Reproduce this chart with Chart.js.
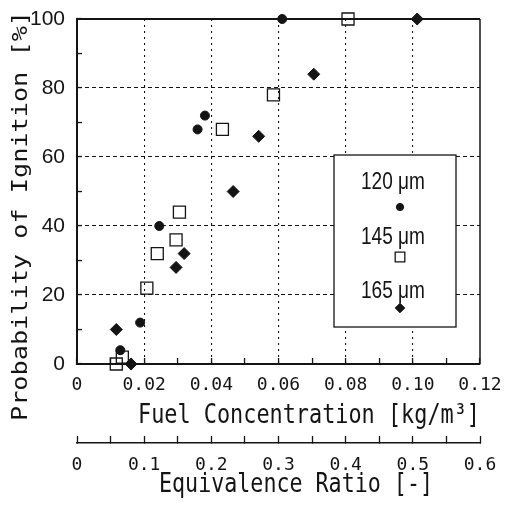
<!DOCTYPE html>
<html lang="en">
<head>
<meta charset="UTF-8">
<title>Probability of Ignition</title>
<style>
  html, body { margin:0; padding:0; background:#fff; }
  #wrap { width:520px; height:505px; }
</style>
</head>
<body>
<div id="wrap"><canvas id="chart" width="520" height="505"></canvas></div>
<script src="https://cdn.jsdelivr.net/npm/chart.js"></script>
<script>
// fuel concentration [kg/m3] -> probability of ignition [%], per droplet size
const seriesLabels = ["120 \u03bcm", "145 \u03bcm", "165 \u03bcm"];

const fuel120 = [0.0129, 0.0188, 0.0245, 0.0359, 0.0381, 0.0611];
const prob120 = [4, 12, 40, 68, 72, 100];

const fuel145 = [0.0117, 0.0135, 0.0208, 0.0239, 0.0295, 0.0305, 0.0433, 0.0585, 0.0807];
const prob145 = [0, 2, 22, 32, 36, 44, 68, 78, 100];

const fuel165 = [0.0117, 0.0161, 0.0295, 0.0319, 0.0465, 0.0541, 0.0705, 0.1013];
const prob165 = [10, 0, 28, 32, 50, 66, 84, 100];

const xTicks = [0, 0.02, 0.04, 0.06, 0.08, 0.10, 0.12];
const yTicks = [0, 20, 40, 60, 80, 100];
const eqTicks = [0, 0.1, 0.2, 0.3, 0.4, 0.5, 0.6];

const ink = '#141414';
const none = 'rgba(0,0,0,0)';
const pts = (xs, ys) => xs.map((x, i) => ({ x: x, y: ys[i] }));

// frame: top and right edges of the plot box
const framePlugin = {
  id: 'frame',
  beforeDatasetsDraw(chart) {
    const { ctx, chartArea: a } = chart;
    ctx.save();
    ctx.strokeStyle = ink;
    ctx.lineWidth = 2;
    ctx.beginPath();
    ctx.moveTo(a.left, a.top);
    ctx.lineTo(a.right, a.top);
    ctx.stroke();
    ctx.lineWidth = 1.5;
    ctx.beginPath();
    ctx.moveTo(a.right, a.top);
    ctx.lineTo(a.right, a.bottom);
    ctx.stroke();
    ctx.restore();
  }
};

// squeeze a title to a given width
function squeezed(ctx, text, cx, cy, width, font, rot) {
  ctx.save();
  ctx.font = font;
  ctx.fillStyle = ink;
  ctx.textAlign = 'center';
  ctx.textBaseline = 'alphabetic';
  ctx.translate(cx, cy);
  if (rot) ctx.rotate(rot);
  const w = ctx.measureText(text).width;
  ctx.scale(width / w, 1);
  ctx.fillText(text, 0, 0);
  ctx.restore();
}

const titlePlugin = {
  id: 'titles',
  afterDraw(chart) {
    const ctx = chart.ctx;
    squeezed(ctx, 'Probability of Ignition [%]', 27, 216, 410, '21px "DejaVu Sans Mono"', -Math.PI / 2);
    squeezed(ctx, 'Fuel Concentration [kg/m\u00b3]', 309, 423, 342, '27px "DejaVu Sans Mono"');
    squeezed(ctx, 'Equivalence Ratio [-]', 296, 492, 274, '27px "DejaVu Sans Mono"');
  }
};

// legend box: label above its marker
const legendPlugin = {
  id: 'boxLegend',
  afterDraw(chart) {
    const ctx = chart.ctx;
    const bx = 334, by = 155, bw = 122, bh = 172;
    ctx.save();
    ctx.fillStyle = '#fff';
    ctx.fillRect(bx, by, bw, bh);
    ctx.strokeStyle = ink;
    ctx.lineWidth = 1.3;
    ctx.strokeRect(bx, by, bw, bh);
    const rows = [189, 244, 298];
    const marks = [207, 257, 308];
    chart.data.datasets.forEach((ds, i) => {
      squeezed(ctx, ds.label, 393, rows[i], 64, '24px "Liberation Sans"');
      ctx.fillStyle = ds.backgroundColor;
      ctx.strokeStyle = ds.borderColor;
      ctx.lineWidth = ds.borderWidth;
      Chart.helpers.drawPoint(ctx, {
        pointStyle: ds.pointStyle,
        radius: ds.pointRadius * 0.8,
        rotation: 0,
        borderWidth: ds.borderWidth
      }, 400, marks[i]);
    });
    ctx.restore();
  }
};

const noPad = s => { s.paddingTop = 0; s.paddingBottom = 0; s.paddingLeft = 0; s.paddingRight = 0; };

new Chart(document.getElementById('chart'), {
  type: 'scatter',
  data: {
    datasets: [
      { label: seriesLabels[0], data: pts(fuel120, prob120), pointStyle: 'circle', pointRadius: 4.5,
        backgroundColor: ink, borderColor: ink, borderWidth: 1, clip: false },
      { label: seriesLabels[1], data: pts(fuel145, prob145), pointStyle: 'rect', pointRadius: 8.5,
        backgroundColor: none, borderColor: ink, borderWidth: 1.3, clip: false },
      { label: seriesLabels[2], data: pts(fuel165, prob165), pointStyle: 'rectRot', pointRadius: 6,
        backgroundColor: ink, borderColor: ink, borderWidth: 1, clip: false }
    ]
  },
  options: {
    responsive: false,
    animation: false,
    layout: { padding: { top: 19, right: 40, left: 0, bottom: 0 } },
    plugins: { legend: { display: false }, tooltip: { enabled: false } },
    scales: {
      x: {
        type: 'linear', position: 'bottom', weight: 0,
        min: xTicks[0], max: xTicks[xTicks.length - 1],
        afterFit: s => { s.height = 79; noPad(s); },
        ticks: {
          stepSize: 0.01, autoSkip: false, maxRotation: 0, padding: 17, color: ink,
          font: { family: 'DejaVu Sans Mono', size: 18 },
          callback: v => {
            const t = xTicks.find(q => Math.abs(q - v) < 1e-6);
            return t === undefined ? '' : (t === 0 ? '0' : t.toFixed(2));
          }
        },
        grid: {
          color: c => {
            const v = c.tick.value;
            const major = xTicks.some(q => Math.abs(q - v) < 1e-6);
            return (major && v > 0.001 && v < 0.119) ? ink : none;
          },
          lineWidth: 1.1, tickLength: -6, tickColor: ink, tickWidth: 1.3
        },
        border: { display: true, color: ink, width: 2, dash: [2, 4] }
      },
      x2: {
        type: 'linear', position: 'bottom', weight: 1,
        min: eqTicks[0], max: eqTicks[eqTicks.length - 1],
        afterFit: s => { s.height = 62; noPad(s); },
        ticks: {
          stepSize: 0.05, autoSkip: false, maxRotation: 0, padding: 19, color: ink,
          font: { family: 'DejaVu Sans Mono', size: 18 },
          callback: v => {
            const t = eqTicks.find(q => Math.abs(q - v) < 1e-6);
            return t === undefined ? '' : (t === 0 ? '0' : t.toFixed(1));
          }
        },
        grid: { drawOnChartArea: false, tickLength: -7, tickColor: ink, tickWidth: 1.3 },
        border: { display: true, color: ink, width: 1.5 }
      },
      y: {
        type: 'linear', position: 'left',
        min: yTicks[0], max: yTicks[yTicks.length - 1],
        afterFit: s => { s.width = 77; noPad(s); },
        ticks: {
          stepSize: 10, autoSkip: false, padding: 17, color: ink,
          font: { family: 'Liberation Sans', size: 21 },
          callback: v => yTicks.includes(v) ? String(v) : ''
        },
        grid: {
          color: c => {
            const v = c.tick.value;
            return (yTicks.includes(v) && v > 0 && v < 100) ? ink : none;
          },
          lineWidth: 1.1, tickLength: -5, tickColor: ink, tickWidth: 1.3
        },
        border: { display: true, color: ink, width: 2, dash: [4, 3] }
      }
    }
  },
  plugins: [framePlugin, legendPlugin, titlePlugin]
});
</script>
</body>
</html>
